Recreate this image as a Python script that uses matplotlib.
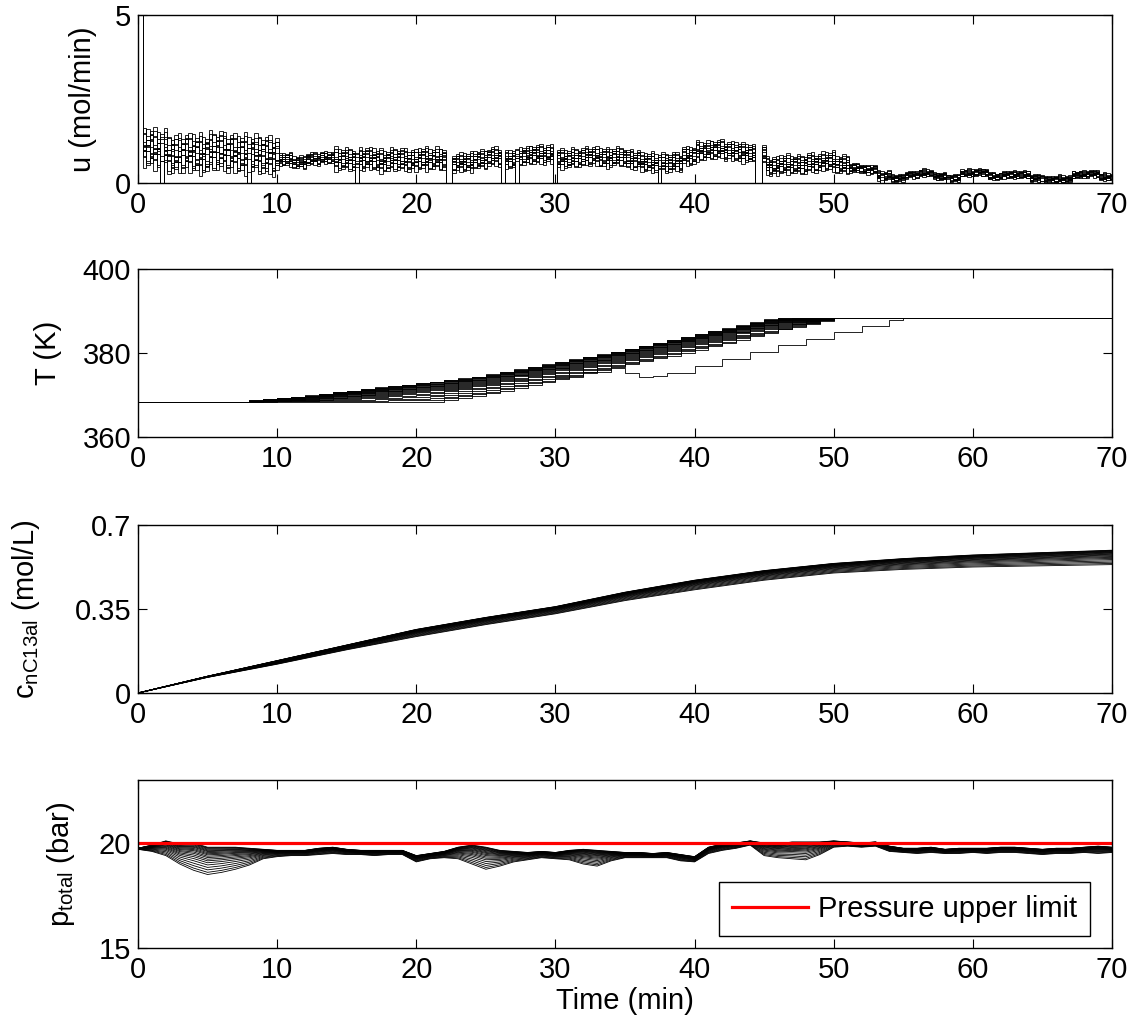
import numpy as np
import matplotlib
matplotlib.use('Agg')
import matplotlib.pyplot as plt

plt.rcParams['font.family'] = ['Liberation Sans', 'DejaVu Sans']
plt.rcParams['mathtext.fontset'] = 'custom'
plt.rcParams['mathtext.rm'] = 'Liberation Sans'
plt.rcParams['mathtext.it'] = 'Liberation Sans'
FS = 21

# ---- u (mol/min): per-minute band centre and half width, plus a typed wiggle
u_start = 5.0
u_mid = [1.05, 1.0, 0.85, 0.9, 0.85, 0.95, 0.9, 0.85, 0.85, 0.8,
         0.7, 0.62, 0.72, 0.75, 0.7, 0.7, 0.72, 0.65, 0.7, 0.68,
         0.72, 0.72, 0.6, 0.62, 0.7, 0.78, 0.7, 0.8, 0.85, 0.85,
         0.72, 0.75, 0.8, 0.75, 0.78, 0.7, 0.62, 0.6, 0.62, 0.8,
         0.95, 1.0, 0.95, 0.9, 0.85, 0.5, 0.55, 0.55, 0.6, 0.65,
         0.55, 0.45, 0.4, 0.22, 0.15, 0.25, 0.3, 0.2, 0.15, 0.3,
         0.32, 0.2, 0.25, 0.25, 0.15, 0.1, 0.12, 0.25, 0.28, 0.18, 0.1]
u_half = [0.6] * 10 + [0.2] * 4 + [0.35] * 8 + [0.3] * 29 + [0.15] * 3 + [0.12] * 17
u_wiggle = [0.9, -0.6, 0.3, -1.0, 0.7, -0.2, 1.0, -0.8, 0.1, -0.4, 0.6, -0.9, 0.4]
u_members = [-0.8, -0.65, -0.5, -0.38, -0.25, -0.12, 0.0, 0.1, 0.2, 0.3,
             0.4, 0.5, 0.62, 0.75, 0.85]
u_dips_all = [22.2, 22.45, 26.2, 30.0, 44.5, 44.75]
u_dips_some = [1.8, 8.0, 15.8, 27.3, 37.5, 53.5, 58.2, 65.0]

# ---- T (K): per-minute upper and lower edge of the ensemble
T_hi = ([368.4] * 8 +
        [368.7, 369.0, 369.3, 369.6, 369.9, 370.3, 370.7, 371.0, 371.4, 371.8,
         372.1, 372.5, 372.9, 373.2, 373.6, 374.0, 374.4, 374.9, 375.5, 376.1,
         376.7, 377.3, 377.9, 378.5, 379.1, 379.7, 380.3, 381.0, 381.7, 382.4,
         383.1, 383.8, 384.5, 385.2, 385.9, 386.6, 387.3, 388.0] +
        [388.3] * 25)
T_lo = ([368.4] * 22 +
        [368.8, 369.3, 369.8, 370.4, 371.0, 371.7, 372.4, 373.1, 373.8, 374.5,
         375.2, 375.9, 376.6, 377.3, 378.0, 378.7, 379.4, 380.1, 380.8, 381.6,
         382.4, 383.2, 384.0, 384.8, 385.6, 386.3, 387.0, 387.7, 388.3] +
        [388.3] * 20)
T_out_t = [30, 32, 34, 35, 36, 37, 38, 40, 42, 44, 46, 48, 50, 52, 54, 55, 70]
T_out = [374.2, 375.4, 376.4, 375.2, 374.4, 374.6, 375.3, 376.8, 378.5, 380.2,
         381.8, 383.4, 385.0, 386.5, 387.8, 388.3, 388.3]

# ---- c_nC13al (mol/L): every 5 min
c_t = [0, 5, 10, 15, 20, 25, 30, 35, 40, 45, 50, 55, 60, 65, 70]
c_hi = [0.0, 0.07, 0.135, 0.2, 0.265, 0.315, 0.36, 0.42, 0.47, 0.51, 0.54,
        0.56, 0.575, 0.585, 0.595]
c_lo = [0.0, 0.065, 0.12, 0.18, 0.235, 0.285, 0.33, 0.385, 0.43, 0.47, 0.50,
        0.515, 0.525, 0.53, 0.535]

# ---- p_total (bar): per-minute upper and lower edge
p_hi = [19.75, 19.9, 20.1, 19.95, 20.0, 19.8, 19.8, 19.8, 19.75, 19.7,
        19.65, 19.65, 19.65, 19.75, 19.8, 19.7, 19.65, 19.65, 19.65, 19.65,
        19.4, 19.5, 19.6, 19.8, 19.9, 19.8, 19.65, 19.6, 19.55, 19.6,
        19.55, 19.65, 19.7, 19.65, 19.6, 19.55, 19.55, 19.5, 19.55, 19.45,
        19.35, 19.8, 19.95, 20.0, 20.1, 20.0, 19.95, 20.05, 20.05, 20.05,
        20.1, 20.05, 20.0, 20.05, 19.85, 19.75, 19.75, 19.8, 19.7, 19.75,
        19.75, 19.75, 19.8, 19.8, 19.75, 19.7, 19.75, 19.75, 19.8, 19.85, 19.8]
p_lo = [19.7, 19.6, 19.4, 19.0, 18.7, 18.5, 18.6, 18.75, 18.95, 19.25,
        19.35, 19.4, 19.4, 19.45, 19.5, 19.45, 19.45, 19.4, 19.45, 19.45,
        19.1, 19.25, 19.3, 19.25, 19.0, 18.75, 18.9, 19.1, 19.2, 19.3,
        19.25, 19.2, 19.0, 18.9, 19.15, 19.3, 19.3, 19.3, 19.3, 19.15,
        19.1, 19.5, 19.65, 19.75, 19.9, 19.4, 19.3, 19.25, 19.2, 19.45,
        19.8, 19.85, 19.8, 19.85, 19.6, 19.55, 19.5, 19.55, 19.5, 19.5,
        19.55, 19.5, 19.55, 19.55, 19.5, 19.45, 19.5, 19.5, 19.55, 19.5, 19.55]
p_limit = 20.0
members = [0.0, 0.08, 0.17, 0.26, 0.35, 0.43, 0.5, 0.56, 0.62, 0.67, 0.72,
           0.76, 0.8, 0.84, 0.87, 0.9, 0.93, 0.96, 0.98, 1.0]

minutes = np.arange(71)

fig = plt.figure(figsize=(11.36, 10.35), dpi=100)
L, W, H = 138 / 1136, 974 / 1136, 168 / 1035
bottoms = [1 - 183 / 1035, 1 - 437 / 1035, 1 - 693 / 1035, 1 - 948 / 1035]
axes = [fig.add_axes([L, b, W, H]) for b in bottoms]
lw = 0.6

# u
ax = axes[0]
tq = np.arange(0.35, 70, 0.25)
edges = np.r_[0, tq, 70]
m = np.minimum(tq.astype(int), 70)
mid = np.array(u_mid)[m]
half = np.array(u_half)[m]
wig = np.array(u_wiggle)
idx_all = [np.searchsorted(tq, d) - 1 for d in u_dips_all]
idx_some = [np.searchsorted(tq, d) - 1 for d in u_dips_some]
for k, off in enumerate(u_members):
    w = wig[(np.arange(len(tq)) + 3 * k) % len(wig)]
    vals = np.clip(mid + half * 0.6 * (off + w), 0.0, None)
    vals[idx_all] = 0.0
    if k % 2 == 0:
        vals[idx_some] = 0.0
    ax.stairs(np.r_[u_start, vals], edges, baseline=None, color='k', lw=lw)
ax.set_ylim(0, 5)
ax.set_yticks([0, 5])
ax.set_ylabel('u (mol/min)', fontsize=FS)
ax.yaxis.set_label_coords(-0.042, 0.5)

# T
ax = axes[1]
hi, lo = np.array(T_hi), np.array(T_lo)
for f in members:
    ax.plot(minutes, lo + f * (hi - lo), drawstyle='steps-post', color='k', lw=lw)
ax.plot(T_out_t, T_out, drawstyle='steps-post', color='k', lw=lw)
ax.set_ylim(360, 400)
ax.set_yticks([360, 380, 400])
ax.set_ylabel('T (K)', fontsize=FS)
ax.yaxis.set_label_coords(-0.078, 0.5)

# c
ax = axes[2]
hi, lo = np.array(c_hi), np.array(c_lo)
for f in members:
    ax.plot(c_t, lo + f * (hi - lo), color='k', lw=lw)
ax.set_ylim(0, 0.7)
ax.set_yticks([0, 0.35, 0.7])
ax.set_yticklabels(['0', '0.35', '0.7'])
ax.set_ylabel(r'c$_{\mathregular{nC13al}}$ (mol/L)', fontsize=FS)
ax.yaxis.set_label_coords(-0.0986, 0.5)

# p
ax = axes[3]
hi, lo = np.array(p_hi), np.array(p_lo)
for f in members:
    ax.plot(minutes, lo + f * (hi - lo), color='k', lw=lw)
ax.axhline(p_limit, color='r', lw=2.3, label='Pressure upper limit')
ax.set_ylim(15, 23)
ax.set_yticks([15, 20])
ax.set_ylabel(r'p$_{\mathregular{total}}$ (bar)', fontsize=FS)
ax.yaxis.set_label_coords(-0.0626, 0.5)
ax.set_xlabel('Time (min)', fontsize=FS, labelpad=2)
leg = ax.legend(loc='lower right', bbox_to_anchor=(1 - 22 / 974, 12 / 168),
                borderaxespad=0, fontsize=FS, fancybox=False, framealpha=1,
                edgecolor='k', handlelength=2.6, handletextpad=0.35,
                borderpad=0.45)
leg.get_frame().set_linewidth(1.0)

for ax in axes:
    ax.set_xlim(0, 70)
    ax.set_xticks(range(0, 71, 10))
    ax.tick_params(direction='in', length=6.5, width=0.8, top=True, right=True,
                   labelsize=FS)
    ax.tick_params(axis='x', pad=6)
    ax.tick_params(axis='y', pad=5)
    for s in ax.spines.values():
        s.set_linewidth(1.0)

fig.savefig('out.png', dpi=100)
